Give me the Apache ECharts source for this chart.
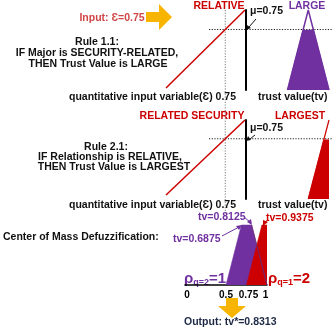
<!DOCTYPE html>
<html><head><meta charset="utf-8">
<script src="https://cdn.jsdelivr.net/npm/echarts@6/dist/echarts.min.js"></script>
<style>html,body{margin:0;padding:0;background:#fff}#c{width:332px;height:329px}</style>
</head><body><div id="c"></div>
<script>
// ---- data ----
const inputValue = 0.75;          // Ɛ
const membership = 0.75;          // μ
const relativeX = [0, 1], relativeY = [0, 1];                 // RELATIVE / RELATED SECURITY ramp
const largeX = [0.5, 0.75, 1], largeY = [0, 1, 0];            // LARGE
const largeCutX = [0.5, 0.6875, 0.8125, 1], largeCutY = [0, 0.75, 0.75, 0];
const largestX = [0.75, 1], largestY = [0, 1];                // LARGEST
const largestCutX = [0.75, 0.9375, 1], largestCutY = [0, 0.75, 0.75];
const defuzzTicks = [0, 0.5, 0.75, 1];
const rhoLarge = 1, rhoLargest = 2;
const outputValue = 0.8313;

const FONT = '"Liberation Sans", Arial, sans-serif';
const RED = '#cc0000', PURPLE = '#7030a0', ORANGE = '#f7b500';
const zip = (a, b) => a.map((v, i) => [v, b[i]]);

const chart = echarts.init(document.getElementById('c'), null, {renderer: 'canvas'});

const grids = [
  {left: 166, top: 10, width: 79, height: 78},   // 0 input panel1
  {left: 246, top: 10, width: 83, height: 80},   // 1 trust panel1
  {left: 166, top: 120, width: 79, height: 75},  // 2 input panel2
  {left: 246, top: 120, width: 83, height: 79},  // 3 trust panel2
  {left: 185, top: 205, width: 82, height: 80}   // 4 defuzzification
];
const hiddenAxis = i => ({type: 'value', gridIndex: i, min: 0, max: 1, show: false});
const tickRich = {
  z: {padding: [0, 0, 0, 4]},
  h: {padding: [0, 0, 0, 0]},
  m: {padding: [0, 0, 0, 4]},
  o: {padding: [0, 3, 0, 0]}
};
const xAxes = [hiddenAxis(0), hiddenAxis(1), hiddenAxis(2), hiddenAxis(3), {
  type: 'value', gridIndex: 4, min: 0, max: 1, interval: 0.25,
  axisLine: {show: true, lineStyle: {color: '#000', width: 1.5}},
  axisTick: {show: false}, splitLine: {show: false},
  axisLabel: {show: true, margin: 5, color: '#000', fontFamily: FONT, fontWeight: 'bold', fontSize: 10,
    rich: Object.fromEntries(Object.entries(tickRich).map(([k, v]) =>
      [k, Object.assign({fontFamily: FONT, fontWeight: 'bold', fontSize: 10, color: '#000'}, v)])),
    formatter: v => {
      if (!defuzzTicks.includes(v)) return '';
      const key = v === 0 ? 'z' : v === 0.75 ? 'm' : v === 1 ? 'o' : 'h';
      return '{' + key + '|' + v + '}';
    }}
}];
const trustY = i => ({type: 'value', gridIndex: i, min: 0, max: 1, show: true,
  axisLine: {show: true, lineStyle: {color: '#000', width: 2}},
  axisTick: {show: false}, axisLabel: {show: false}, splitLine: {show: false}});
const yAxes = [hiddenAxis(0), trustY(1), hiddenAxis(2), trustY(3), hiddenAxis(4)];

const line = (i, data, color, width, extra) => Object.assign({
  type: 'line', xAxisIndex: i, yAxisIndex: i, data, symbol: 'none', clip: false,
  lineStyle: {color, width}, silent: true
}, extra || {});
const area = (i, data, color) => line(i, data, color, 0.5, {areaStyle: {color, opacity: 1}});

const series = [
  // panel 1
  line(0, zip(relativeX, relativeY), RED, 1.5),
  area(1, zip(largeCutX, largeCutY), PURPLE),
  line(1, zip(largeX, largeY), PURPLE, 1.5),
  // panel 2
  line(2, zip(relativeX, relativeY), RED, 1.5),
  area(3, zip(largestCutX, largestCutY), RED),
  line(3, zip(largestX, largestY), RED, 1.2),
  // defuzzification
  area(4, zip(largeCutX, largeCutY), PURPLE),
  area(4, zip(largestCutX, largestCutY), RED),
  line(4, [[largeCutX[2], largeCutY[2]], [largeCutX[3], largeCutY[3]]], '#6a2a6a', 0.8)
];

const txt = (x, y, text, color, size, align, extra) => ({
  type: 'text', x, y, silent: true,
  style: Object.assign({text, fill: color, font: 'bold ' + size + 'px ' + FONT,
    textAlign: align || 'center', textVerticalAlign: 'middle'}, extra || {})
});
const seg = (x1, y1, x2, y2, color, w, dash) => ({type: 'line', silent: true,
  shape: {x1, y1, x2, y2}, style: {stroke: color, lineWidth: w || 1, lineDash: dash || null}});
const head = (pts, color) => ({type: 'polygon', silent: true, shape: {points: pts}, style: {fill: color}});
const rho = (x, y, q, v, color) => ({
  type: 'text', x, y, silent: true,
  style: {text: '{a|ρ}{s|q=' + q + '}{a|=' + v + '}', fill: color, textAlign: 'left', textVerticalAlign: 'middle',
    rich: {a: {font: 'bold 15px ' + FONT, fill: color}, s: {font: 'bold 9px ' + FONT, fill: color, padding: [7, 0, 0, 0]}}}
});

const graphic = [
  // top arrow + input
  txt(112, 18, 'Input: Ɛ=' + inputValue, '#d04545', 10.5),
  {type: 'polygon', silent: true, shape: {points: [[146, 12], [159, 12], [159, 4], [172, 17], [159, 30], [159, 22], [146, 22]]}, style: {fill: ORANGE}},
  txt(97, 42, 'Rule 1.1:', '#111', 10.5),
  txt(97, 53, 'IF Major is SECURITY-RELATED,', '#111', 10.5),
  txt(98, 64, 'THEN Trust Value is LARGE', '#111', 10.5),
  txt(219, 6, 'RELATIVE', RED, 10.5),
  txt(307, 6, 'LARGE', PURPLE, 10.5),
  txt(250, 11, 'μ=' + membership, '#111', 10.5, 'left'),
  seg(256, 19, 249, 27, '#111', 1), head([[246, 30], [247, 25], [251, 28]], '#111'),
  txt(236, 97, 'quantitative input variable(Ɛ) ' + inputValue, '#111', 10.5, 'right'),
  txt(258, 97, 'trust value(tv)', '#111', 10.5, 'left'),
  // panel 2
  txt(192, 116, 'RELATED SECURITY', RED, 10.5),
  txt(300, 116, 'LARGEST', RED, 10.5),
  txt(106, 147, 'Rule 2.1:', '#111', 10.5),
  txt(110, 157, 'IF Relationship is RELATIVE,', '#111', 10.5),
  txt(114, 167, 'THEN Trust Value is LARGEST', '#111', 10.5),
  txt(250, 128, 'μ=' + membership, '#111', 10.5, 'left'),
  seg(255, 135, 250, 139, '#111', 1), head([[246, 141], [248, 136], [251, 140]], '#111'),
  txt(236, 205, 'quantitative input variable(Ɛ) ' + inputValue, '#111', 10.5, 'right'),
  txt(258, 205, 'trust value(tv)', '#111', 10.5, 'left'),
  // defuzzification
  txt(3, 237, 'Center of Mass Defuzzification:', '#111', 10.5, 'left'),
  txt(198, 217, 'tv=' + largeCutX[2], PURPLE, 10.5, 'left'),
  seg(244, 217, 250, 222, PURPLE, 1), head([[252, 225], [247, 222], [251, 219]], PURPLE),
  txt(173, 239, 'tv=' + largeCutX[1], PURPLE, 10.5, 'left'),
  seg(222, 236, 239, 227, PURPLE, 1), head([[242, 225], [236, 226], [239, 230]], PURPLE),
  txt(266, 218, 'tv=' + largestCutX[1], RED, 10.5, 'left'),
  seg(268, 219, 265, 223, RED, 1), head([[263, 226], [263, 220], [268, 222]], RED),
  rho(184, 279, 2, rhoLarge, PURPLE),
  rho(268, 279, 1, rhoLargest, RED),
  {type: 'polygon', silent: true, shape: {points: [[226, 298], [238, 298], [238, 306], [246, 306], [232, 318], [218, 306], [226, 306]]}, style: {fill: ORANGE}},
  txt(184, 322, 'Output: tv*=' + outputValue, '#1c2844', 10.5, 'left')
];

chart.setOption({animation: false, grid: grids, xAxis: xAxes, yAxis: yAxes, series, graphic});

// dotted guide lines placed through the axes' own scales
const px = (g, x, y) => chart.convertToPixel({gridIndex: g}, [x, y]);
const v1 = px(0, inputValue, 1), mu1 = px(0, 0, membership), mu2 = px(2, 0, membership);
const guides = [
  seg(v1[0], 10, v1[0], 214, '#7a7a7a', 1, [1.2, 1.5]),
  seg(209, mu1[1], 332, mu1[1], '#222', 1, [1.2, 1.5]),
  seg(209, mu2[1], 332, mu2[1], '#222', 1, [1.2, 1.5])
];
chart.setOption({graphic: graphic.concat(guides)});
</script></body></html>
